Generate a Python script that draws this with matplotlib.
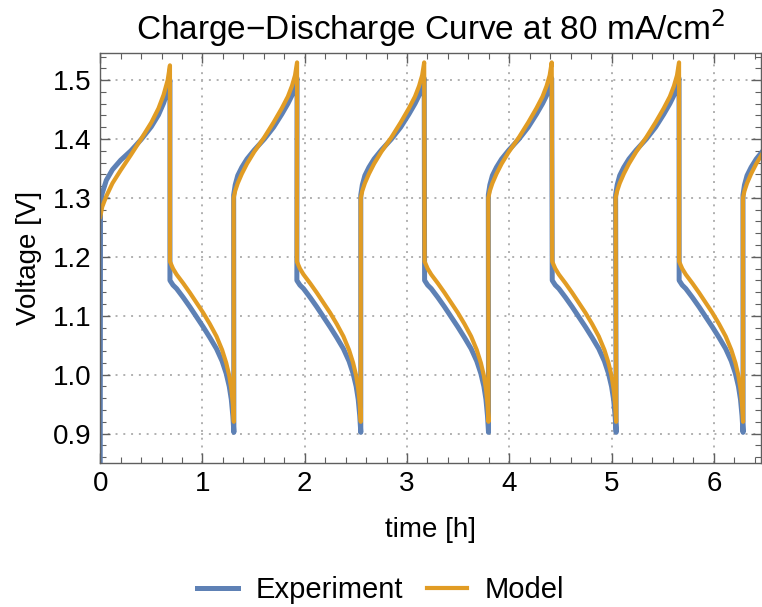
import matplotlib
import numpy as np

matplotlib.use("Agg")
import matplotlib.pyplot as plt
from matplotlib.ticker import MultipleLocator

# cycle timing [h]
charge_start = [1.305, 2.548, 3.795, 5.040, 6.285]
discharge_start = [0.682, 1.923, 3.172, 4.420, 5.661]

# first charge (starts from rest at t=0)
first_dt = [0.0, 0.02, 0.06, 0.12, 0.20, 0.30, 0.40, 0.50, 0.57, 0.62, 0.66, 0.682]
first_model = [1.268, 1.285, 1.303, 1.325, 1.347, 1.373, 1.400, 1.428, 1.452, 1.475, 1.500, 1.525]
first_exp_dt = [0.0, 0.003, 0.02, 0.06, 0.12, 0.20, 0.30, 0.40, 0.50, 0.57, 0.62, 0.66, 0.682]
first_exp = [0.80, 1.290, 1.308, 1.330, 1.348, 1.364, 1.380, 1.399, 1.421, 1.441, 1.461, 1.481, 1.500]

# charge branch, time since start of charge [h]
charge_dt = [0.0, 0.015, 0.04, 0.08, 0.13, 0.20, 0.30, 0.39, 0.47, 0.53, 0.57, 0.60, 0.62]
charge_model = [1.300, 1.312, 1.325, 1.341, 1.358, 1.378, 1.403, 1.428, 1.452, 1.472, 1.490, 1.508, 1.530]
charge_exp = [1.305, 1.322, 1.338, 1.352, 1.366, 1.381, 1.400, 1.420, 1.442, 1.460, 1.474, 1.488, 1.503]

# discharge branch, time since start of discharge [h]
discharge_dt = [0.0, 0.03, 0.065, 0.13, 0.195, 0.26, 0.325, 0.39, 0.455, 0.51, 0.55, 0.58, 0.60, 0.615, 0.625]
discharge_model = [1.192, 1.180, 1.170, 1.155, 1.139, 1.122, 1.105, 1.086, 1.065, 1.042, 1.020, 0.998, 0.976, 0.950, 0.920]
discharge_exp = [1.160, 1.152, 1.146, 1.131, 1.115, 1.098, 1.081, 1.063, 1.044, 1.023, 1.002, 0.980, 0.958, 0.930, 0.902]

BLUE = "#5E81B5"
ORANGE = "#E19C24"


def build_series(first_t, first_v, ch_v, dis_v):
    t = [np.asarray(first_t)]
    v = [np.asarray(first_v)]
    for i, td in enumerate(discharge_start):
        t.append(td + np.asarray(discharge_dt))
        v.append(np.asarray(dis_v))
        if i < len(charge_start):
            t.append(charge_start[i] + np.asarray(charge_dt))
            v.append(np.asarray(ch_v))
    return np.concatenate(t), np.concatenate(v)


t_exp, v_exp = build_series(first_exp_dt, first_exp, charge_exp, discharge_exp)
t_mod, v_mod = build_series(first_dt, first_model, charge_model, discharge_model)

plt.rcParams["font.family"] = ["Liberation Sans", "DejaVu Sans"]

fig = plt.figure(figsize=(7.62, 6.07), dpi=100)
ax = fig.add_axes([0.1315, 0.2372, 0.867, 0.6755])

ax.plot(t_exp, v_exp, color=BLUE, lw=3.6, label="Experiment")
ax.plot(t_mod, v_mod, color=ORANGE, lw=3.0, label="Model")

ax.set_xlim(0, 6.46)
ax.set_ylim(0.85, 1.546)
ax.xaxis.set_major_locator(MultipleLocator(1))
ax.xaxis.set_minor_locator(MultipleLocator(0.2))
ax.yaxis.set_major_locator(MultipleLocator(0.1))
ax.yaxis.set_minor_locator(MultipleLocator(0.02))
ax.yaxis.set_major_formatter(plt.FormatStrFormatter("%.1f"))

frame = "#5f5f5f"
for s in ax.spines.values():
    s.set_color(frame)
    s.set_linewidth(1.0)
ax.tick_params(which="both", direction="in", top=True, right=True, color=frame,
               labelsize=20, labelcolor="black")
ax.tick_params(which="major", length=7, width=1.0)
ax.tick_params(which="minor", length=4, width=0.8)
ax.tick_params(axis="y", which="major", pad=6)
ax.tick_params(axis="x", which="major", pad=6)

ax.grid(True, which="major", color="#b0b0b0", linestyle=(0, (1, 3)), linewidth=1.4)

ax.set_title("Charge\u2212Discharge Curve at 80 mA/cm$^2$", fontsize=24, pad=9)
ax.set_xlabel("time [h]", fontsize=20, labelpad=14)
ax.set_ylabel("Voltage [V]", fontsize=20, labelpad=8)

fig.legend(loc="center", bbox_to_anchor=(0.5, 0.028), ncol=2, frameon=False,
           fontsize=21, handlelength=1.4, columnspacing=0.8, handletextpad=0.6)

fig.savefig("out.png", dpi=100)
